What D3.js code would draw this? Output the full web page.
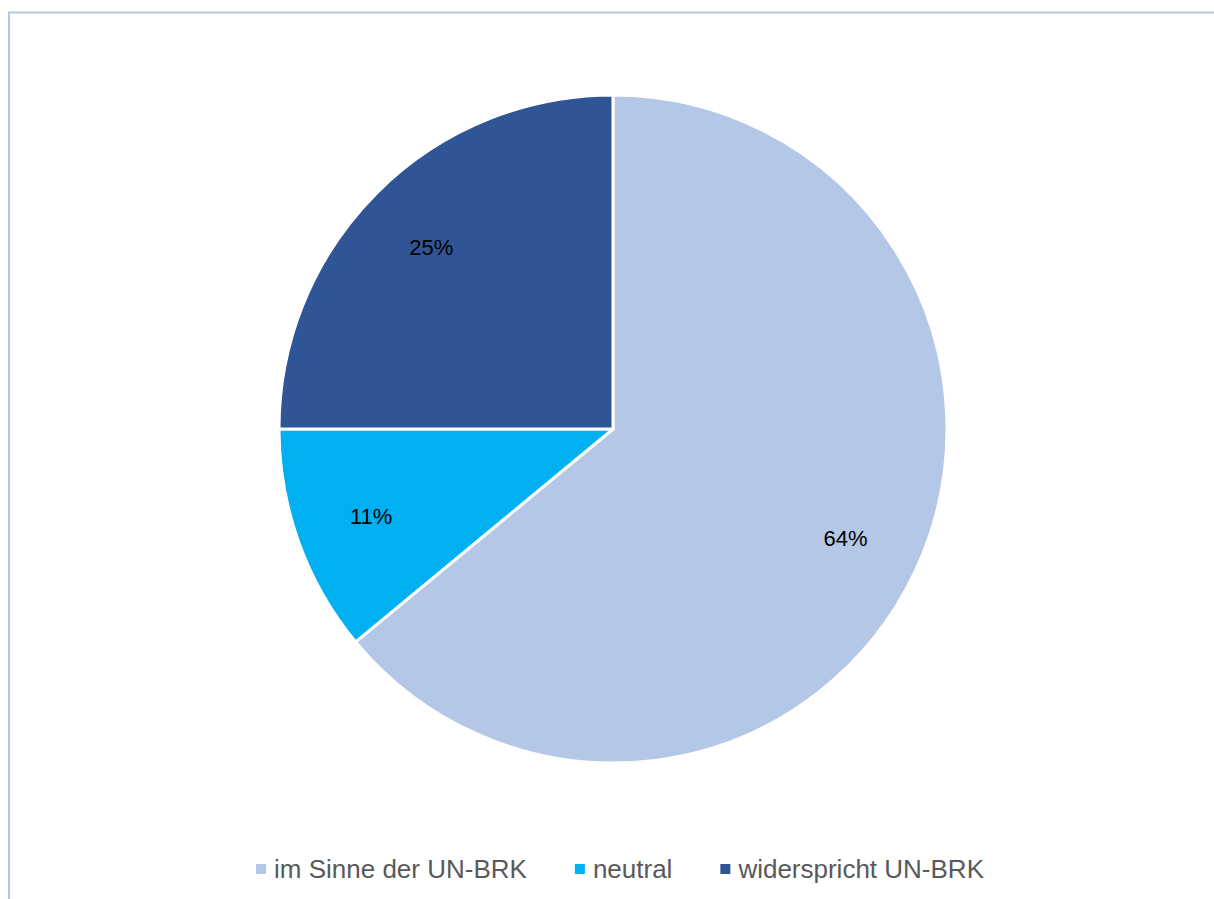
<!DOCTYPE html>
<html>
<head>
<meta charset="utf-8">
<script src="https://cdn.jsdelivr.net/npm/d3@7"></script>
<style>
html,body{margin:0;padding:0;background:#fff;}
svg{display:block;}
</style>
</head>
<body>
<svg id="chart" width="1214" height="899"></svg>
<script>
const categories = ["im Sinne der UN-BRK", "neutral", "widerspricht UN-BRK"];
const values = [64, 11, 25];
const labels = ["64%", "11%", "25%"];
const colors = ["#b4c7e7", "#00b0f0", "#2f5597"];

const svg = d3.select("#chart");
const W = 1214, H = 899;
const cx = 613, cy = 429, R = 334;

// frame
svg.append("line").attr("x1", 8).attr("x2", W).attr("y1", 12.5).attr("y2", 12.5)
  .attr("stroke", "#b4c7e7").attr("stroke-width", 2);
svg.append("line").attr("x1", 9).attr("x2", 9).attr("y1", 12).attr("y2", H)
  .attr("stroke", "#b4c7e7").attr("stroke-width", 2);

const pie = d3.pie().sort(null).value(d => d)(values);
const arc = d3.arc().innerRadius(0).outerRadius(R);
const labelArc = d3.arc().innerRadius(257).outerRadius(257);

const g = svg.append("g").attr("transform", `translate(${cx},${cy})`);
g.selectAll("path").data(pie).join("path")
  .attr("d", arc)
  .attr("fill", (d, i) => colors[i])
  .attr("stroke", "#fff")
  .attr("stroke-width", 3)
  .attr("stroke-linejoin", "round");

g.selectAll("text").data(pie).join("text")
  .attr("transform", d => `translate(${labelArc.centroid(d)})`)
  .attr("text-anchor", "middle")
  .attr("dominant-baseline", "central")
  .attr("font-family", "Liberation Sans, Arial, sans-serif")
  .attr("font-size", 22)
  .attr("fill", "#000")
  .text((d, i) => labels[i]);

// legend
const legendY = 869;
const fs = 26;
const leg = svg.append("g").attr("font-family", "Liberation Sans, Arial, sans-serif").attr("font-size", fs);
const items = leg.selectAll("g").data(categories).join("g");
items.append("rect").attr("width", 10).attr("height", 10).attr("y", -5)
  .attr("fill", (d, i) => colors[i]);
items.append("text").attr("x", 18).attr("dominant-baseline", "central")
  .attr("fill", "#595959").text(d => d);
let x = 0;
const gap = 48;
items.each(function() {
  const node = d3.select(this);
  node.attr("transform", `translate(${x},${legendY})`);
  const tw = node.select("text").node().getComputedTextLength();
  x += 18 + tw + gap;
});
const total = x - gap;
leg.attr("transform", `translate(${620 - total / 2},0)`);
</script>
</body>
</html>
